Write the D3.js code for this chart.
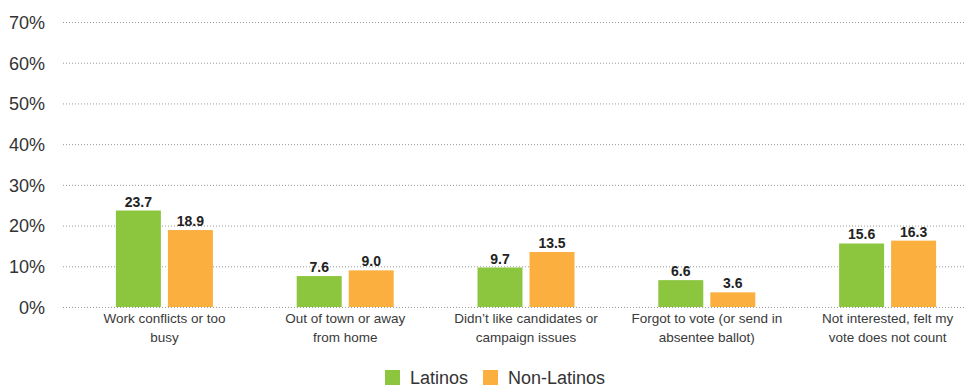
<!DOCTYPE html>
<html>
<head>
<meta charset="utf-8">
<script src="https://cdn.jsdelivr.net/npm/d3@7"></script>
<style>
  body { margin: 0; background: #fff; }
  text { font-family: "Liberation Sans", Arial, sans-serif; }
</style>
</head>
<body>
<div id="chart"></div>
<script>
var categories = [
    ["Work conflicts or too", "busy"],
    ["Out of town or away", "from home"],
    ["Didn\u2019t like candidates or", "campaign issues"],
    ["Forgot to vote (or send in", "absentee ballot)"],
    ["Not interested, felt my", "vote does not count"]
];
var seriesNames = ["Latinos", "Non-Latinos"];
var latinos = [23.7, 7.6, 9.7, 6.6, 15.6];
var nonLatinos = [18.9, 9.0, 13.5, 3.6, 16.3];
var yTicks = [0, 10, 20, 30, 40, 50, 60, 70];
var colors = ["#8cc63f", "#fbaf3f"];

var W = 979, H = 388;
var svg = d3.select('#chart').append('svg')
    .attr('width', W)
    .attr('height', H);

var keys = categories.map((c, i) => i);
var x = d3.scaleBand().domain(keys).range([74, 978]);
var xs = d3.scaleBand().domain([0, 1]).range([-48.5, 48.5]).paddingInner(0.135);
var y = d3.scaleLinear().domain([0, 70]).range([307, 22]);

// gridlines
svg.append('g').selectAll('line')
    .data(yTicks)
    .enter().append('line')
    .attr('x1', 63).attr('x2', 966)
    .attr('y1', d => y(d) + 0.5).attr('y2', d => y(d) + 0.5)
    .attr('stroke', '#999')
    .attr('stroke-width', 1)
    .attr('stroke-dasharray', '1,2');

// y axis labels
var yAxis = d3.axisLeft(y).tickValues(yTicks).tickFormat(d => d + '%').tickSize(0).tickPadding(0);
var ya = svg.append('g').attr('transform', 'translate(45,0)').call(yAxis);
ya.select('.domain').remove();
ya.selectAll('text')
    .attr('fill', '#333')
    .style('font-size', '18px')
    .attr('dy', '0.35em');

var series = [latinos, nonLatinos];
var groups = svg.append('g').selectAll('g')
    .data(keys)
    .enter().append('g')
    .attr('transform', i => 'translate(' + (x(i) + x.bandwidth() / 2) + ',0)');

groups.selectAll('rect')
    .data(i => series.map((s, k) => ({ k: k, v: s[i] })))
    .enter().append('rect')
    .attr('x', d => xs(d.k))
    .attr('width', xs.bandwidth())
    .attr('y', d => y(d.v))
    .attr('height', d => y(0) - y(d.v))
    .attr('fill', d => colors[d.k]);

groups.selectAll('.val')
    .data(i => series.map((s, k) => ({ k: k, v: s[i] })))
    .enter().append('text')
    .attr('class', 'val')
    .attr('x', d => xs(d.k) + xs.bandwidth() / 2)
    .attr('y', d => y(d.v) - 4)
    .attr('text-anchor', 'middle')
    .attr('fill', '#222')
    .style('font-size', '14px')
    .style('font-weight', 'bold')
    .text(d => d.v.toFixed(1));

groups.append('text')
    .attr('text-anchor', 'middle')
    .attr('fill', '#3a3a3a')
    .style('font-size', '13.5px')
    .selectAll('tspan')
    .data(i => categories[i])
    .enter().append('tspan')
    .attr('x', 0)
    .attr('y', (d, j) => 323 + j * 19)
    .text(d => d);

// legend
var legend = svg.append('g').attr('transform', 'translate(385,370)');
var lx = [0, 98];
seriesNames.forEach((n, k) => {
    legend.append('rect')
        .attr('x', lx[k]).attr('y', 0)
        .attr('width', 15).attr('height', 15)
        .attr('fill', colors[k]);
    legend.append('text')
        .attr('x', lx[k] + 25).attr('y', 14)
        .attr('fill', '#333')
        .style('font-size', '18px')
        .text(n);
});
</script>
</body>
</html>
